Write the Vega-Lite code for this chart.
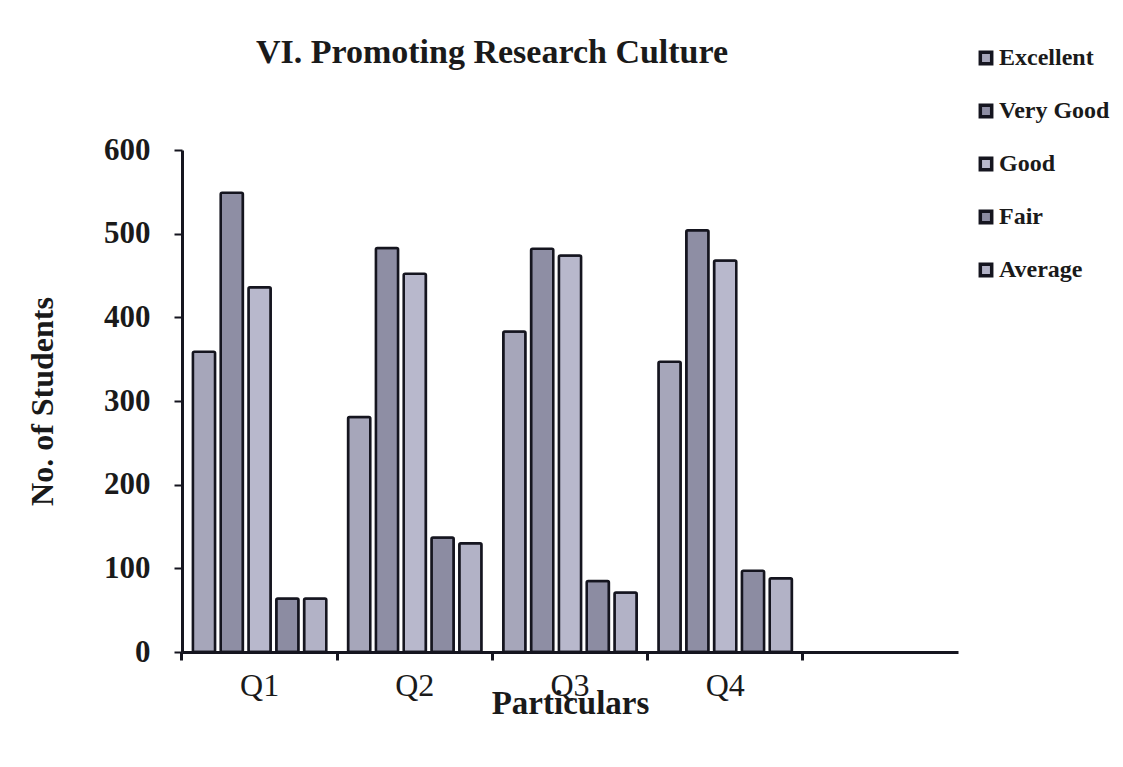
{
  "$schema": "https://vega.github.io/schema/vega-lite/v6.json",
  "autosize": {"type": "none"},
  "width": 776,
  "height": 502,
  "padding": {"left": 182, "top": 150, "right": 165, "bottom": 115},
  "background": "#ffffff",
  "title": {
    "text": "VI. Promoting Research Culture",
    "font": "Liberation Serif",
    "fontSize": 34,
    "fontWeight": "bold",
    "color": "#1a1a1a",
    "anchor": "middle",
    "frame": "group",
    "dx": -78,
    "offset": -24
  },
  "data": {
    "values": [
      {"q": "Q1", "rating": "Excellent", "students": 359},
      {"q": "Q1", "rating": "Very Good", "students": 549},
      {"q": "Q1", "rating": "Good", "students": 436},
      {"q": "Q1", "rating": "Fair", "students": 64},
      {"q": "Q1", "rating": "Average", "students": 64},
      {"q": "Q2", "rating": "Excellent", "students": 281},
      {"q": "Q2", "rating": "Very Good", "students": 483},
      {"q": "Q2", "rating": "Good", "students": 452},
      {"q": "Q2", "rating": "Fair", "students": 137},
      {"q": "Q2", "rating": "Average", "students": 130},
      {"q": "Q3", "rating": "Excellent", "students": 383},
      {"q": "Q3", "rating": "Very Good", "students": 482},
      {"q": "Q3", "rating": "Good", "students": 474},
      {"q": "Q3", "rating": "Fair", "students": 85},
      {"q": "Q3", "rating": "Average", "students": 71},
      {"q": "Q4", "rating": "Excellent", "students": 347},
      {"q": "Q4", "rating": "Very Good", "students": 504},
      {"q": "Q4", "rating": "Good", "students": 468},
      {"q": "Q4", "rating": "Fair", "students": 97},
      {"q": "Q4", "rating": "Average", "students": 88}
    ]
  },
  "mark": {"type": "bar", "stroke": "#15151f", "strokeWidth": 2.5, "cornerRadius": 1.5},
  "encoding": {
    "x": {
      "field": "q",
      "type": "nominal",
      "scale": {"domain": ["Q1", "Q2", "Q3", "Q4", " "], "paddingInner": 0.14, "paddingOuter": 0.07},
      "axis": {
        "title": "Particulars",
        "titleFont": "Liberation Serif",
        "titleFontSize": 33,
        "titleFontWeight": "bold",
        "titleColor": "#1a1a1a",
        "titlePadding": -14,
        "labelFont": "Liberation Serif",
        "labelFontSize": 32,
        "labelFontWeight": "normal",
        "labelColor": "#1a1a1a",
        "labelAngle": 0,
        "labelPadding": 10,
        "bandPosition": -0.0814,
        "labelOffset": 0,
        "domainColor": "#15151f",
        "domainWidth": 3,
        "tickColor": "#15151f",
        "tickWidth": 3,
        "tickSize": 8,
        "grid": false
      }
    },
    "xOffset": {
      "field": "rating",
      "type": "nominal",
      "sort": ["Excellent", "Very Good", "Good", "Fair", "Average"],
      "scale": {"paddingInner": 0.2, "paddingOuter": 0}
    },
    "y": {
      "field": "students",
      "type": "quantitative",
      "scale": {"domain": [0, 600], "nice": false},
      "axis": {
        "title": "No. of Students",
        "titleFont": "Liberation Serif",
        "titleFontSize": 32,
        "titleFontWeight": "bold",
        "titleColor": "#1a1a1a",
        "titlePadding": 44,
        "values": [0, 100, 200, 300, 400, 500, 600],
        "labelFont": "Liberation Serif",
        "labelFontSize": 31,
        "labelFontWeight": "bold",
        "labelColor": "#1a1a1a",
        "labelPadding": 24,
        "domainColor": "#15151f",
        "domainWidth": 3,
        "tickColor": "#15151f",
        "tickWidth": 2,
        "tickSize": 8,
        "grid": false
      }
    },
    "color": {
      "field": "rating",
      "type": "nominal",
      "scale": {
        "domain": ["Excellent", "Very Good", "Good", "Fair", "Average"],
        "range": ["#a6a6ba", "#8e8ea4", "#b8b8cc", "#8c8ca2", "#b2b2c6"]
      },
      "legend": {
        "title": null,
        "orient": "none",
        "legendX": 792,
        "legendY": -104,
        "symbolType": "square",
        "symbolSize": 130,
        "symbolStrokeColor": "#15151f",
        "symbolStrokeWidth": 3.5,
        "symbolOpacity": 1,
        "labelFont": "Liberation Serif",
        "labelFontSize": 24,
        "labelFontWeight": "bold",
        "labelColor": "#1a1a1a",
        "labelOffset": 1,
        "rowPadding": 27
      }
    }
  },
  "config": {"view": {"stroke": null}}
}
